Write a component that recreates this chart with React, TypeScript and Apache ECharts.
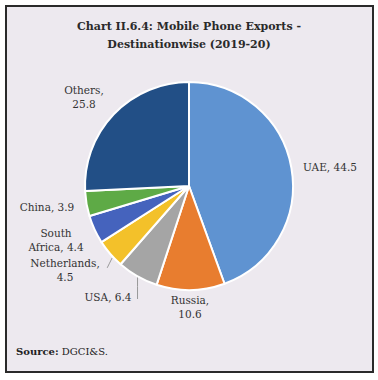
import React, { useEffect, useRef } from "react";
import * as echarts from "echarts";

const categories = ["UAE", "Russia", "USA", "Netherlands", "South Africa", "China", "Others"];
const values = [44.5, 10.6, 6.4, 4.5, 4.4, 3.9, 25.8];
const colors = ["#5F93D1", "#E87D2F", "#A5A5A5", "#F3C12A", "#4563BD", "#5EAA46", "#224F86"];
const labelTexts = ["UAE, 44.5", "Russia,\n10.6", "USA, 6.4", "Netherlands,\n4.5", "South\nAfrica, 4.4", "China, 3.9", "Others,\n25.8"];
const showLines = [false, false, true, true, false, false, false];

const FONT = "'DejaVu Serif', 'Liberation Serif', serif";

// label placement (text centre) relative to the pie, layout only
const CX = 189;
const CY = 186;
const R = 104;
const labelPos: [number, number][] = [
  [330, 167],
  [190, 307],
  [108, 297],
  [65, 270],
  [56, 240],
  [47, 207],
  [84, 97],
];

export default function App() {
  const ref = useRef<HTMLDivElement>(null);
  useEffect(() => {
    if (!ref.current) return;
    const chart = echarts.init(ref.current, undefined, { renderer: "svg" });
    chart.setOption({
      animation: false,
      backgroundColor: "#ffffff",
      graphic: [
        {
          type: "rect",
          z: -10,
          shape: { x: 6, y: 6, width: 367, height: 366 },
          style: { fill: "#EDE9EF", stroke: "#2a2a2a", lineWidth: 2 },
        },
        {
          type: "text",
          x: 16,
          y: 346,
          style: {
            text: "{b|Source:} DGCI&S.",
            font: `10px ${FONT}`,
            fill: "#222",
            rich: {
              b: { fontWeight: "bold", fontFamily: FONT, fontSize: 10, fill: "#222" },
            },
          },
        },
      ],
      title: {
        text: "Chart II.6.4: Mobile Phone Exports -\nDestinationwise (2019-20)",
        left: "center",
        top: 12,
        textStyle: {
          fontFamily: FONT,
          fontWeight: "bold",
          fontSize: 11,
          lineHeight: 18,
          color: "#2a2a2a",
        },
      },
      series: [
        {
          type: "pie",
          center: [CX, CY],
          radius: [0, R],
          startAngle: 90,
          clockwise: true,
          avoidLabelOverlap: false,
          itemStyle: { borderColor: "#ffffff", borderWidth: 2 },
          label: {
            show: true,
            position: "outside",
            fontFamily: FONT,
            fontSize: 10.5,
            lineHeight: 14,
            color: "#333",
            align: "center",
          },
          labelLine: { length: 8, length2: 0, lineStyle: { color: "#999", width: 1 } },
          labelLayout: (params: any) => {
            const i = params.dataIndex;
            const [x, y] = labelPos[i];
            const out: any = { x, y, align: "center", verticalAlign: "middle", hideOverlap: false };
            if (showLines[i]) {
              const p0 = params.labelLinePoints ? params.labelLinePoints[0] : [x, y];
              if (i === 2) {
                out.labelLinePoints = [p0, [p0[0], p0[1] + 10], [p0[0], 299]];
              } else {
                out.labelLinePoints = [[p0[0] + 2, p0[1] + 4], [p0[0] - 1, p0[1] + 10], [p0[0] - 3, p0[1] + 14]];
              }
            }
            return out;
          },
          data: categories.map((c, i) => ({
            name: c,
            value: values[i],
            itemStyle: { color: colors[i] },
            label: { formatter: labelTexts[i] },
            labelLine: { show: showLines[i] },
          })),
        },
      ],
    });
    return () => chart.dispose();
  }, []);
  return <div ref={ref} style={{ position: "fixed", left: 0, top: 0, width: 378, height: 380 }} />;
}
